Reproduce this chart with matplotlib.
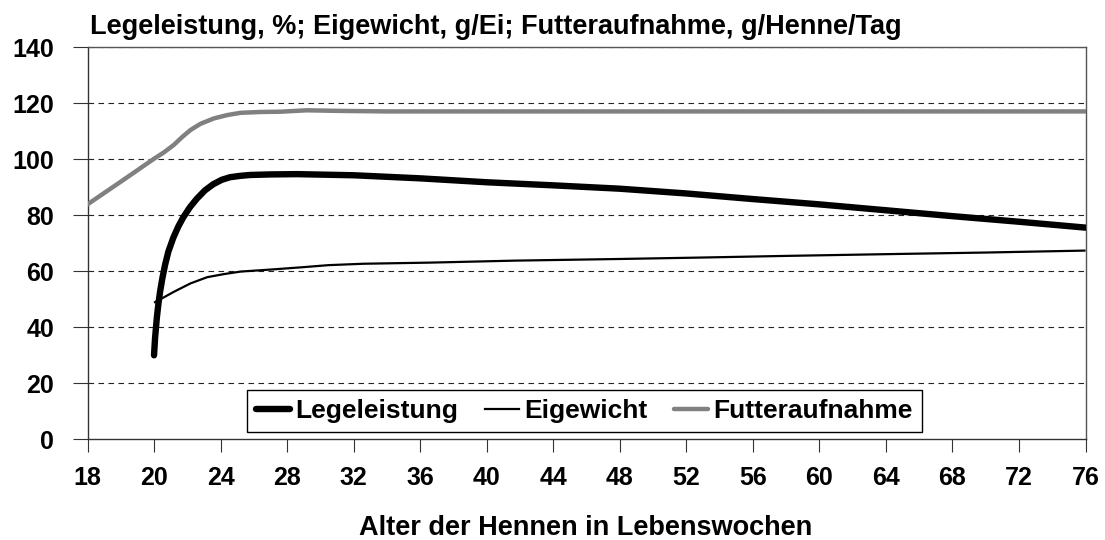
import numpy as np
import matplotlib
matplotlib.use("Agg")
import matplotlib.pyplot as plt
from matplotlib.lines import Line2D

plt.rcParams['font.family'] = ['Liberation Sans', 'DejaVu Sans']
plt.rcParams['font.weight'] = 'bold'

# Category axis: age in weeks
tick_ages = [18, 20, 24, 28, 32, 36, 40, 44, 48, 52, 56, 60, 64, 68, 72, 76]

# Legeleistung, %
lege_age = [20.0, 20.06, 20.17, 20.26, 20.36, 20.5, 20.66, 20.86, 21.16,
            21.46, 21.76, 22.16, 22.57, 23.06, 23.56, 24.08, 24.57, 25.2,
            25.77, 27.0, 28.6, 32, 36, 40, 44, 48, 52, 56, 60, 64, 68, 72, 76]
lege_val = [30.0, 36.0, 43.5, 48.2, 52.6, 57.5, 62.2, 67.0, 72.0,
            76.0, 79.3, 82.9, 85.9, 88.9, 91.1, 92.7, 93.6, 94.1,
            94.4, 94.6, 94.7, 94.3, 93.2, 91.8, 90.7, 89.5, 87.8, 85.8,
            83.9, 81.8, 79.7, 77.7, 75.6]

# Eigewicht, g/Ei
ei_age = [20.0, 20.5, 21.2, 22.2, 23.2, 24.2, 25.2, 27.2, 28.8, 30.5, 32.6,
          36.6, 41.6, 48, 52.8, 58, 64.8, 70, 76]
ei_val = [48.8, 50.4, 52.7, 55.7, 57.9, 59.0, 59.9, 60.7, 61.4, 62.2, 62.7,
          63.1, 63.8, 64.4, 64.9, 65.5, 66.2, 66.7, 67.4]

# Futteraufnahme, g/Henne/Tag
futter_age = [18, 19, 20, 20.6, 21.2, 21.7, 22.2, 22.8, 23.6, 24.4, 25.2,
              26.4, 27.6, 29.2, 31, 34, 40, 76]
futter_val = [83.9, 92.0, 100.2, 102.5, 105.2, 108.0, 110.5, 112.7, 114.6,
              115.8, 116.6, 116.9, 117.0, 117.5, 117.3, 117.1, 117.1, 117.1]

y_ticks = [0, 20, 40, 60, 80, 100, 120, 140]

positions = np.arange(len(tick_ages))


def to_pos(ages):
    return np.interp(ages, tick_ages, positions)


fig = plt.figure(figsize=(11.05, 5.40), dpi=100)
ax = fig.add_axes([87.5 / 1105, 1 - 439.3 / 540, 998 / 1105, 392 / 540])

grid_kw = dict(color='#222222', lw=0.8, dashes=(5, 4))
for v in y_ticks[1:]:
    ax.axhline(v, zorder=1, **grid_kw)

ax.plot(to_pos(futter_age), futter_val, color='#808080', lw=3.2,
        solid_capstyle='round', solid_joinstyle='round', zorder=3)
ax.plot(to_pos(ei_age), ei_val, color='black', lw=1.6,
        solid_capstyle='butt', solid_joinstyle='round', zorder=4)
ax.plot(to_pos(lege_age), lege_val, color='black', lw=4.6,
        solid_capstyle='round', solid_joinstyle='round', zorder=5)

ax.set_xlim(0, len(tick_ages) - 1)
ax.set_ylim(0, 140)
ax.set_xticks(positions)
ax.set_xticklabels([str(a) for a in tick_ages])
ax.set_yticks(y_ticks)
ax.tick_params(axis='both', direction='out', width=0.8,
               color='#333333', labelsize=18)
ax.tick_params(axis='y', length=11, pad=13)
ax.tick_params(axis='x', length=9.5, pad=10)
for lab in ax.get_xticklabels() + ax.get_yticklabels():
    lab.set_fontweight('bold')

for side in ['left', 'bottom']:
    ax.spines[side].set_color('#333333')
    ax.spines[side].set_linewidth(1.0)
for side in ['top', 'right']:
    ax.spines[side].set_color('#555555')
    ax.spines[side].set_linewidth(1.0)

handles = [Line2D([], [], color='black', lw=4.6, solid_capstyle='round'),
           Line2D([], [], color='black', lw=1.6),
           Line2D([], [], color='#808080', lw=3.2, solid_capstyle='round')]
labels = ['Legeleistung', 'Eigewicht', 'Futteraufnahme']
leg = ax.legend(handles, labels, ncol=3, loc='lower center',
                bbox_to_anchor=(0.498, 0.018), borderaxespad=0,
                frameon=True, fancybox=False,
                edgecolor='black', framealpha=1, handlelength=1.3,
                handletextpad=0.2, columnspacing=1.0, borderpad=0.35,
                prop={'weight': 'bold', 'size': 19})
leg.get_frame().set_linewidth(1.0)
leg.set_zorder(6)

fig.text(90 / 1105, 1 - 27 / 540,
         'Legeleistung, %; Eigewicht, g/Ei; Futteraufnahme, g/Henne/Tag',
         ha='left', va='center', fontsize=19.5, fontweight='bold')
fig.text(586 / 1105, 1 - 528 / 540, 'Alter der Hennen in Lebenswochen',
         ha='center', va='center', fontsize=19.5, fontweight='bold')

fig.savefig('out.png', dpi=100)
